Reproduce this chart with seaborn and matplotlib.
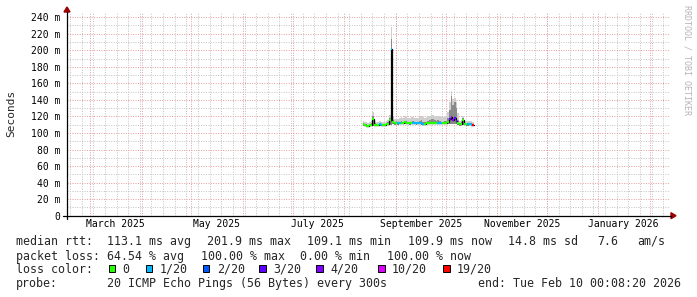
import numpy as np
import pandas as pd
import matplotlib
matplotlib.use('Agg')
import matplotlib.pyplot as plt
import seaborn as sns
from matplotlib.patches import Rectangle, Polygon
from matplotlib.lines import Line2D

sns.set_style('white')
plt.rcParams['font.family'] = ['DejaVu Sans Mono', 'DejaVu Sans']

# ---------------- data ----------------
first_day = '2025-08-12'
median_ms = [110.5, 110.0, 109.0, 108.5, 109.5, 110.0, 117.0, 110.0, 110.0, 110.0,
             110.5, 110.0, 110.0, 110.0, 110.5, 111.0, 116.0, 201.9, 113.0, 111.5,
             112.0, 111.5, 112.0, 112.5, 112.0, 113.0, 112.5, 112.0, 111.5, 112.0,
             112.0, 112.0, 111.5, 112.0, 112.0, 111.5, 111.0, 111.0, 111.5, 112.0,
             112.0, 112.5, 112.0, 112.0, 112.0, 112.5, 112.0, 112.0, 112.0, 112.5,
             112.0, 113.0, 117.0, 119.0, 116.0, 118.0, 114.0, 111.5, 110.5, 111.0,
             116.0, 111.0, 110.5, 110.5, 111.0, 110.0, 110.0]
smoke_lo_ms = [109.0, 108.5, 107.5, 107.0, 108.0, 108.5, 109.0, 108.5, 108.5, 108.5,
               109.0, 108.5, 108.5, 108.5, 109.0, 109.5, 110.0, 110.0, 111.0, 110.0,
               110.5, 110.0, 110.5, 111.0, 110.5, 111.0, 111.0, 110.5, 110.0, 110.5,
               110.5, 110.5, 110.0, 110.5, 110.5, 110.0, 109.5, 109.5, 110.0, 110.5,
               110.5, 111.0, 110.5, 110.5, 110.5, 111.0, 110.5, 110.5, 110.5, 111.0,
               110.5, 111.0, 111.0, 111.0, 111.0, 111.0, 110.5, 110.0, 109.0, 109.5,
               110.0, 109.5, 109.0, 109.0, 109.5, 108.5, 108.5]
smoke_mid_ms = [111.5, 111.0, 110.5, 110.0, 111.0, 111.5, 120.0, 111.5, 111.0, 111.0,
                112.0, 111.0, 111.0, 111.0, 112.0, 113.0, 118.0, 214.0, 116.0, 113.0,
                114.0, 113.0, 113.5, 114.0, 113.5, 115.0, 114.0, 113.5, 113.0, 113.5,
                114.5, 113.5, 113.0, 113.5, 114.5, 115.5, 113.5, 113.0, 113.5, 114.5,
                115.5, 116.5, 116.5, 115.5, 114.5, 115.5, 114.5, 113.5, 113.5, 114.5,
                114.0, 118.0, 128.0, 145.0, 134.0, 138.0, 130.0, 116.0, 112.0, 113.0,
                118.0, 112.5, 112.0, 112.0, 112.5, 111.5, 111.0]
smoke_hi_ms = [114.0, 113.0, 113.0, 112.0, 113.0, 114.0, 125.0, 114.0, 113.0, 113.0,
               114.0, 113.0, 113.0, 113.0, 114.0, 116.0, 122.0, 228.0, 120.0, 117.0,
               118.0, 117.0, 118.0, 119.0, 118.0, 120.0, 119.0, 118.0, 118.0, 119.0,
               119.0, 118.0, 118.0, 118.0, 119.0, 120.0, 119.0, 118.0, 119.0, 120.0,
               121.0, 122.0, 122.0, 121.0, 120.0, 121.0, 120.0, 119.0, 119.0, 120.0,
               120.0, 125.0, 138.0, 151.0, 141.0, 142.0, 137.0, 124.0, 115.0, 116.0,
               121.0, 115.0, 114.0, 114.0, 115.0, 114.0, 113.0]
loss_idx = [0, 0, 0, 0, 0, 0, 0, 0, 0, 0,
            1, 1, 0, 0, 0, 0, 0, 1, 0, 0,
            0, 1, 1, 0, 0, 0, 0, 0, 0, 0,
            1, 1, 1, 1, 1, 1, 1, 0, 0, 0,
            0, 0, 0, 0, 0, 1, 1, 1, 0, 0,
            0, 0, 3, 4, 4, 3, 3, 0, 0, 0,
            0, 0, 0, 1, 1, 1, 6]
loss_labels = ['0', '1/20', '2/20', '3/20', '4/20', '10/20', '19/20']
loss_colors = ['#26ff00', '#00b8ff', '#0059ff', '#5e00ff', '#7e00ff', '#dd00ff', '#ff0000']
month_labels = ['March 2025', 'May 2025', 'July 2025', 'September 2025',
                'November 2025', 'January 2026']
month_label_dates = ['2025-03-16', '2025-05-16', '2025-07-16', '2025-09-16',
                     '2025-11-16', '2026-01-16']
y_major = [0, 20, 40, 60, 80, 100, 120, 140, 160, 180, 200, 220, 240]
stats_rtt = ['median rtt:', '113.1 ms avg', '201.9 ms max', '109.1 ms min',
             '109.9 ms now', '14.8 ms sd', '7.6', 'am/s']
stats_loss = ['packet loss:', '64.54 % avg', '100.00 % max', '0.00 % min', '100.00 % now']
probe_text = ['probe:', '20 ICMP Echo Pings (56 Bytes) every 300s',
              'end: Tue Feb 10 00:08:20 2026']

# ---------------- figure ----------------
W, H = 697, 297
fig = plt.figure(figsize=(W / 100, H / 100), dpi=100, facecolor='white')

def fx(px):
    return px / W

def fy(py):
    return 1 - py / H

L, R, T, B = 67, 670, 13, 215.7
ax = fig.add_axes([fx(L), fy(B), (R - L) / W, (B - T) / H])
ax.set_facecolor('white')

x0 = pd.Timestamp('2025-02-15 04:00')
x1 = pd.Timestamp('2026-02-13 01:00')
ax.set_xlim(x0, x1)
ax.set_ylim(0, 245)

# grid
red = '#e59c9c'
gray = '#c2c2c2'
for yv in np.arange(10, 245, 10):
    if yv % 20 == 0:
        continue
    ax.axhline(yv, color=gray, lw=0.7, ls=(0, (1, 1.5)), zorder=0)
for d in pd.date_range('2025-02-17', x1, freq='W-MON'):
    ax.axvline(d, color=gray, lw=0.7, ls=(0, (1, 1.5)), zorder=0)
for yv in y_major[1:]:
    ax.axhline(yv, color=red, lw=0.7, ls=(0, (1, 1.5)), zorder=0.5)
for d in pd.date_range('2025-03-01', x1, freq='MS'):
    ax.axvline(d, color=red, lw=0.7, ls=(0, (1, 1.5)), zorder=0.5)

# data
dates = pd.date_range(first_day, periods=len(median_ms), freq='D')
edges = dates.append(pd.DatetimeIndex([dates[-1] + pd.Timedelta(days=1)]))
def ext(a):
    return list(a) + [a[-1]]

ax.fill_between(edges, ext(smoke_lo_ms), ext(smoke_hi_ms), step='post',
                color='#cfcfcf', lw=0, zorder=2)
ax.fill_between(edges, ext(smoke_lo_ms), ext(smoke_mid_ms), step='post',
                color='#8a8a8a', lw=0, zorder=2.1)

df = pd.DataFrame({'date': edges, 'median': ext(median_ms)})
sns.lineplot(data=df, x='date', y='median', drawstyle='steps-post',
             color='black', lw=0.9, ax=ax, zorder=3)
ax.hlines(median_ms, dates, dates + pd.Timedelta(days=1),
          colors=[loss_colors[i] for i in loss_idx], lw=1.6, zorder=4)

# axes formatting
ax.set_xlabel('')
ax.set_ylabel('')
for s in ax.spines.values():
    s.set_visible(False)
ax.set_yticks(y_major)
ax.set_yticklabels(['0'] + [f'{v} m' for v in y_major[1:]])
ax.set_xticks(pd.to_datetime(month_label_dates))
ax.set_xticklabels(month_labels)
ax.tick_params(axis='both', length=0, labelsize=7, colors='black')
ax.tick_params(axis='y', pad=5)
ax.tick_params(axis='x', pad=2.5)
ax.minorticks_off()

# axis lines and arrows
fig.add_artist(Line2D([fx(L), fx(L)], [fy(B + 3), fy(T - 1)], color='black', lw=0.9))
fig.add_artist(Line2D([fx(L - 4), fx(R + 1)], [fy(B), fy(B)], color='black', lw=0.9))
arrow_c = '#9b0000'
fig.add_artist(Polygon([[fx(L - 3), fy(T - 1)], [fx(L + 3), fy(T - 1)], [fx(L), fy(T - 6)]],
                       closed=True, color=arrow_c, transform=fig.transFigure))
fig.add_artist(Polygon([[fx(R + 1), fy(B - 3)], [fx(R + 1), fy(B + 3)], [fx(R + 6), fy(B)]],
                       closed=True, color=arrow_c, transform=fig.transFigure))

# y label
fig.text(fx(11), fy(113), 'Seconds', rotation=90, ha='center', va='center', fontsize=8)

# watermark
fig.text(fx(687), fy(5), 'RRDTOOL / TOBI OETIKER', rotation=270, ha='center', va='top',
         fontsize=6, color='#b4b4b4')

# legend / stats text
fs = 8.4
for txt, px in zip(stats_rtt, [16, 107, 206.7, 306.7, 408.3, 508.3, 597, 637]):
    fig.text(fx(px), fy(245), txt, fontsize=fs, va='baseline', ha='left')
for txt, px in zip(stats_loss, [16, 107, 200.7, 300, 386.7]):
    fig.text(fx(px), fy(260), txt, fontsize=fs, va='baseline', ha='left')
fig.text(fx(16), fy(273), 'loss color:', fontsize=fs, va='baseline', ha='left')
box_x = [108.7, 145.7, 202.7, 259, 316, 378.3, 443.3]
lab_x = [122.7, 160, 216.7, 273, 330, 391.7, 456.7]
for lab, col, bx, lx in zip(loss_labels, loss_colors, box_x, lab_x):
    fig.add_artist(Rectangle((fx(bx), fy(271.5)), 6.5 / W, 6.5 / H, facecolor=col,
                             edgecolor='black', lw=0.7, transform=fig.transFigure))
    fig.text(fx(lx), fy(273), lab, fontsize=fs, va='baseline', ha='left')
for txt, px in zip(probe_text, [16, 107, 478.3]):
    fig.text(fx(px), fy(287), txt, fontsize=fs, va='baseline', ha='left')

fig.savefig('out.png', dpi=100, facecolor='white')
